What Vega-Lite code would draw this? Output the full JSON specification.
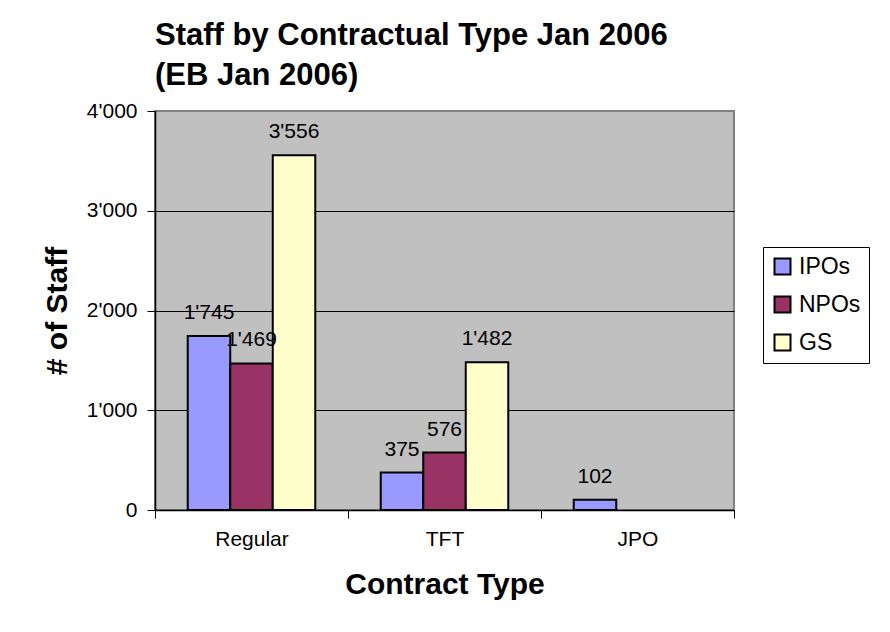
{
  "$schema": "https://vega.github.io/schema/vega-lite/v6.json",
  "autosize": {"type": "none"},
  "padding": {"left": 155, "top": 111, "right": 156, "bottom": 122},
  "width": 579,
  "height": 399,
  "background": "white",
  "title": {
    "text": ["Staff by Contractual Type Jan 2006", "(EB Jan 2006)"],
    "anchor": "start",
    "frame": "group",
    "font": "Liberation Sans",
    "fontSize": 31,
    "fontWeight": "bold",
    "color": "black",
    "lineHeight": 40,
    "offset": 8
  },
  "data": {
    "values": [
      {"type": "Regular", "group": "IPOs", "staff": 1745},
      {"type": "Regular", "group": "NPOs", "staff": 1469},
      {"type": "Regular", "group": "GS", "staff": 3556},
      {"type": "TFT", "group": "IPOs", "staff": 375},
      {"type": "TFT", "group": "NPOs", "staff": 576},
      {"type": "TFT", "group": "GS", "staff": 1482},
      {"type": "JPO", "group": "IPOs", "staff": 102}
    ]
  },
  "encoding": {
    "x": {
      "field": "type",
      "type": "nominal",
      "sort": ["Regular", "TFT", "JPO"],
      "scale": {"paddingInner": 0, "paddingOuter": 0},
      "title": "Contract Type",
      "axis": {
        "labelAngle": 0,
        "tickBand": "extent",
        "tickSize": 8,
        "labelPadding": 10,
        "titlePadding": 20
      }
    },
    "xOffset": {
      "field": "group",
      "type": "nominal",
      "scale": {"domain": ["IPOs", "NPOs", "GS"], "paddingInner": 0, "paddingOuter": 0.77}
    },
    "y": {
      "field": "staff",
      "type": "quantitative",
      "scale": {"domain": [0, 4000]},
      "title": "# of Staff",
      "axis": {
        "values": [0, 1000, 2000, 3000, 4000],
        "format": ",d",
        "tickSize": 8,
        "labelPadding": 10,
        "titlePadding": 14,
        "grid": true,
        "gridColor": {"condition": {"test": "datum.value >= 4000", "value": "#808080"}, "value": "black"}
      }
    }
  },
  "layer": [
    {
      "mark": {"type": "bar", "stroke": "black", "strokeWidth": 2},
      "encoding": {
        "color": {
          "field": "group",
          "type": "nominal",
          "scale": {"domain": ["IPOs", "NPOs", "GS"], "range": ["#9999FF", "#993366", "#FFFFCC"]},
          "legend": {
            "title": null,
            "orient": "none",
            "legendX": 608,
            "legendY": 136
          }
        }
      }
    },
    {
      "mark": {
        "type": "text",
        "baseline": "alphabetic",
        "dy": -17,
        "font": "Liberation Sans",
        "fontSize": 21,
        "color": "black"
      },
      "encoding": {
        "text": {"field": "staff", "type": "quantitative", "format": ",d"}
      }
    }
  ],
  "config": {
    "locale": {
      "number": {"decimal": ".", "thousands": "'", "grouping": [3], "currency": ["", ""]}
    },
    "view": {"fill": "#C0C0C0", "stroke": "#808080", "strokeWidth": 2},
    "axis": {
      "domainColor": "black",
      "domainWidth": 1.5,
      "tickColor": "black",
      "labelFont": "Liberation Sans",
      "labelFontSize": 21,
      "labelColor": "black",
      "titleFont": "Liberation Sans",
      "titleFontSize": 30,
      "titleFontWeight": "bold",
      "titleColor": "black",
      "gridWidth": 1
    },
    "legend": {
      "strokeColor": "black",
      "fillColor": "white",
      "padding": 8,
      "symbolType": "square",
      "symbolSize": 256,
      "symbolStrokeColor": "black",
      "symbolStrokeWidth": 2,
      "symbolOpacity": 1,
      "labelFont": "Liberation Sans",
      "labelFontSize": 23,
      "labelColor": "black",
      "labelOffset": 5,
      "rowPadding": 13
    }
  }
}
